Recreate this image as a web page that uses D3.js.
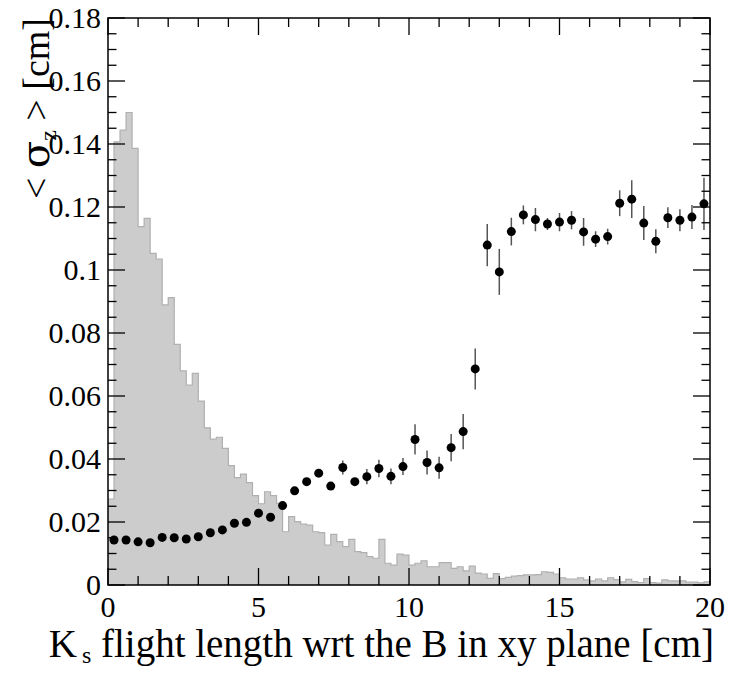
<!DOCTYPE html>
<html>
<head>
<meta charset="utf-8">
<script src="https://cdn.jsdelivr.net/npm/d3@7"></script>
<style>
  body { margin: 0; background: #fff; }
  text { font-family: "Liberation Serif", "DejaVu Serif", serif; fill: #000; }
</style>
</head>
<body>
<svg id="chart" width="731" height="674"></svg>
<script>
// histogram: 100 bins of 0.2 cm from 0 to 20 (already scaled to the y axis)
const histBinWidth = 0.2;
const histValues = [
  0.0273, 0.1407, 0.1444, 0.1500, 0.1386, 0.1138, 0.1164, 0.1053, 0.1035, 0.0889,
  0.0912, 0.0764, 0.0680, 0.0635, 0.0672, 0.0584, 0.0499, 0.0463, 0.0469, 0.0434,
  0.0379, 0.0341, 0.0352, 0.0325, 0.0284, 0.0258, 0.0296, 0.0284, 0.0259, 0.0169,
  0.0217, 0.0201, 0.0193, 0.0190, 0.0169, 0.0166, 0.0127, 0.0161, 0.0138, 0.0122,
  0.0145, 0.0106, 0.0103, 0.0090, 0.0085, 0.0145, 0.0069, 0.0063, 0.0098, 0.0095,
  0.0063, 0.0069, 0.0077, 0.0058, 0.0058, 0.0071, 0.0071, 0.0053, 0.0058, 0.0045,
  0.0060, 0.0038, 0.0035, 0.0021, 0.0036, 0.0020, 0.0024, 0.0028, 0.0030, 0.0032,
  0.0032, 0.0033, 0.0042, 0.0040, 0.0035, 0.0023, 0.0019, 0.0019, 0.0023, 0.0016,
  0.0013, 0.0019, 0.0013, 0.0023, 0.0017, 0.0010, 0.0018, 0.0011, 0.0008, 0.0020,
  0.0008, 0.0006, 0.0016, 0.0013, 0.0013, 0.0013, 0.0009, 0.0009, 0.0007, 0.0010
];

// profile points: <sigma_z> vs flight length
const pointX = [
  0.2, 0.6, 1.0, 1.4, 1.8, 2.2, 2.6, 3.0, 3.4, 3.8,
  4.2, 4.6, 5.0, 5.4, 5.8, 6.2, 6.6, 7.0, 7.4, 7.8,
  8.2, 8.6, 9.0, 9.4, 9.8, 10.2, 10.6, 11.0, 11.4, 11.8,
  12.2, 12.6, 13.0, 13.4, 13.8, 14.2, 14.6, 15.0, 15.4, 15.8,
  16.2, 16.6, 17.0, 17.4, 17.8, 18.2, 18.6, 19.0, 19.4, 19.8
];
const pointMean = [
  0.0143, 0.0143, 0.0137, 0.0134, 0.0151, 0.0150, 0.0146, 0.0153, 0.0166, 0.0175,
  0.0196, 0.0199, 0.0228, 0.0215, 0.0252, 0.0299, 0.0328, 0.0355, 0.0314, 0.0373,
  0.0328, 0.0344, 0.0370, 0.0345, 0.0376, 0.0462, 0.0389, 0.0372, 0.0436, 0.0487,
  0.0686, 0.1079, 0.0994, 0.1122, 0.1175, 0.1160, 0.1146, 0.1152, 0.1158, 0.1121,
  0.1098, 0.1106, 0.1212, 0.1225, 0.1149, 0.1091, 0.1166, 0.1158, 0.1168, 0.1210
];
const pointErr = [
  0.0003, 0.0003, 0.0003, 0.0003, 0.0003, 0.0003, 0.0004, 0.0004, 0.0004, 0.0005,
  0.0005, 0.0006, 0.0006, 0.0007, 0.0007, 0.0008, 0.0008, 0.0009, 0.0010, 0.0022,
  0.0012, 0.0024, 0.0028, 0.0025, 0.0027, 0.0048, 0.0038, 0.0035, 0.0043, 0.0056,
  0.0065, 0.0067, 0.0073, 0.0044, 0.0030, 0.0037, 0.0019, 0.0029, 0.0029, 0.0044,
  0.0025, 0.0025, 0.0041, 0.0060, 0.0054, 0.0038, 0.0033, 0.0035, 0.0038, 0.0083
];

const xMajorTicks = [0, 5, 10, 15, 20];
const xTickLabels = ["0", "5", "10", "15", "20"];
const yMajorTicks = [0, 0.02, 0.04, 0.06, 0.08, 0.1, 0.12, 0.14, 0.16, 0.18];
const yTickLabels = ["0", "0.02", "0.04", "0.06", "0.08", "0.1", "0.12", "0.14", "0.16", "0.18"];

function drawChart() {
    const svg = d3.select("#chart");
    const left = 108, right = 710, top = 18, bottom = 585;

    const x = d3.scaleLinear().domain([0, 20]).range([left, right]);
    const y = d3.scaleLinear().domain([0, 0.18]).range([bottom, top]);

    // histogram as a step area
    const steps = histValues.map((v, i) => ({ x0: i * histBinWidth, v: v }));
    steps.push({ x0: 20, v: histValues[histValues.length - 1] });

    const area = d3.area()
        .curve(d3.curveStepAfter)
        .x(d => x(d.x0))
        .y0(y(0))
        .y1(d => y(d.v));
    svg.append("path")
        .datum(steps)
        .attr("fill", "#cccccc")
        .attr("d", area);

    const outline = d3.line()
        .curve(d3.curveStepAfter)
        .x(d => x(d.x0))
        .y(d => y(d.v));
    svg.append("path")
        .datum(steps)
        .attr("fill", "none")
        .attr("stroke", "#b0b0b0")
        .attr("stroke-width", 1.2)
        .attr("d", outline);

    // error bars then markers
    const pts = pointX.map((px, i) => ({ x: px, m: pointMean[i], e: pointErr[i] }));

    svg.selectAll(".err")
        .data(pts)
        .enter().append("line")
        .attr("class", "err")
        .attr("x1", d => x(d.x))
        .attr("x2", d => x(d.x))
        .attr("y1", d => y(d.m + d.e))
        .attr("y2", d => y(d.m - d.e))
        .attr("stroke", "#555")
        .attr("stroke-width", 1.5);

    svg.selectAll(".pt")
        .data(pts)
        .enter().append("circle")
        .attr("class", "pt")
        .attr("cx", d => x(d.x))
        .attr("cy", d => y(d.m))
        .attr("r", 4.5)
        .attr("fill", "#000");

    // frame
    svg.append("rect")
        .attr("x", left).attr("y", top)
        .attr("width", right - left).attr("height", bottom - top)
        .attr("fill", "none")
        .attr("stroke", "#000")
        .attr("stroke-width", 1.5);

    // ticks on all four sides, pointing inwards
    const ticks = svg.append("g").attr("stroke", "#000").attr("stroke-width", 1.3);
    const xMinor = x.ticks(20);
    const yMinor = y.ticks(36);

    xMinor.forEach(t => {
        const len = xMajorTicks.includes(t) ? 17 : 9;
        ticks.append("line").attr("x1", x(t)).attr("x2", x(t)).attr("y1", bottom).attr("y2", bottom - len);
        ticks.append("line").attr("x1", x(t)).attr("x2", x(t)).attr("y1", top).attr("y2", top + len);
    });
    yMinor.forEach(t => {
        const isMajor = yMajorTicks.some(m => Math.abs(m - t) < 1e-9);
        const len = isMajor ? 17 : 8.5;
        ticks.append("line").attr("x1", left).attr("x2", left + len).attr("y1", y(t)).attr("y2", y(t));
        ticks.append("line").attr("x1", right).attr("x2", right - len).attr("y1", y(t)).attr("y2", y(t));
    });

    // tick labels
    svg.selectAll(".xlab")
        .data(xMajorTicks)
        .enter().append("text")
        .attr("x", d => x(d))
        .attr("y", bottom + 32)
        .attr("text-anchor", "middle")
        .attr("font-size", 30)
        .text((d, i) => xTickLabels[i]);

    svg.selectAll(".ylab")
        .data(yMajorTicks)
        .enter().append("text")
        .attr("x", left - 7)
        .attr("y", d => y(d) + 10)
        .attr("text-anchor", "end")
        .attr("font-size", 30)
        .text((d, i) => yTickLabels[i]);

    // x title
    const xt = svg.append("text")
        .attr("x", 714)
        .attr("y", 657)
        .attr("text-anchor", "end")
        .attr("font-size", 39);
    xt.append("tspan").text("K");
    xt.append("tspan").attr("font-size", 24).attr("dx", 5).attr("dy", 6).text("s");
    xt.append("tspan").attr("dy", -6).text(" flight length wrt the B in xy plane [cm]");

    // y title
    const yt = svg.append("text")
        .attr("transform", "translate(49,18) rotate(-90)")
        .attr("text-anchor", "end")
        .attr("font-size", 38);
    yt.append("tspan").text("< ");
    yt.append("tspan").attr("font-family", "DejaVu Serif").attr("font-size", 40).text("σ");
    yt.append("tspan").attr("font-size", 24).attr("dy", 7).text("z");
    yt.append("tspan").attr("dy", -7).text(" > [cm]");
}

window.onload = drawChart;
</script>
</body>
</html>
